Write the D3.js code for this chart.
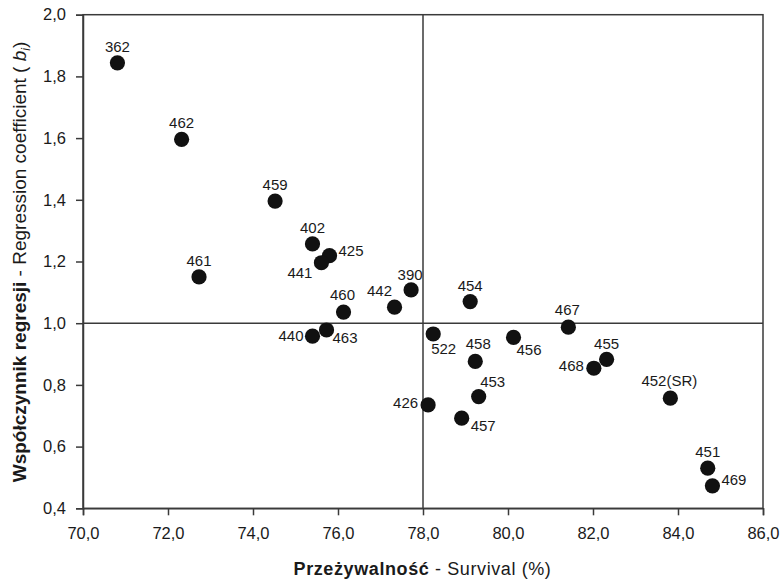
<!DOCTYPE html>
<html><head><meta charset="utf-8">
<script src="https://cdn.jsdelivr.net/npm/d3@7"></script>
<style>body{margin:0;background:#fff}svg{display:block}text{font-family:"Liberation Sans",Arial,sans-serif;fill:#1a1a1a}</style>
</head><body>
<svg id="c" width="781" height="585"></svg>
<script>
const labels = ["362","462","459","461","402","425","441","390","442","460","454","440","463","522","458","453","426","457","456","467","455","468","452(SR)","451","469"];
const survival = [70.81,72.32,74.52,72.73,75.40,75.80,75.61,77.72,77.33,76.13,79.11,75.40,75.73,78.24,79.23,79.31,78.12,78.91,80.13,81.42,82.32,82.02,83.82,84.70,84.81];
const regression = [1.844,1.596,1.396,1.150,1.257,1.219,1.196,1.108,1.052,1.036,1.070,0.958,0.978,0.965,0.876,0.762,0.735,0.692,0.954,0.987,0.883,0.854,0.757,0.530,0.473];
const xTicks = [70,72,74,76,78,80,82,84,86];
const yTicks = [0.4,0.6,0.8,1.0,1.2,1.4,1.6,1.8,2.0];
// label placement: [dx, dy, anchor]
const labelPos = {
 "362":[0,-11,"middle"],"462":[0,-11,"middle"],"459":[0,-11,"middle"],"461":[0,-11,"middle"],
 "402":[0,-11,"middle"],"425":[9,0,"start"],"441":[-9,15,"end"],"390":[-1,-10,"middle"],
 "442":[-15,-11,"middle"],"460":[-1,-12,"middle"],"454":[0,-11,"middle"],"440":[-9,5,"end"],
 "463":[6,13,"start"],"522":[-2,20,"start"],"458":[3,-12,"middle"],"453":[14,-10,"middle"],
 "426":[-10,3,"end"],"457":[9,13,"start"],"456":[3,18,"start"],"467":[-1,-12,"middle"],
 "455":[0,-10,"middle"],"468":[-10,3,"end"],"452(SR)":[-1,-12,"middle"],"451":[0,-11,"middle"],"469":[9,-1,"start"]
};
const svg = d3.select("#c");
const L=83,R=763,T=14.7,B=508.3;
const x = d3.scaleLinear().domain([70,86]).range([L,R]);
const y = d3.scaleLinear().domain([0.4,2.0]).range([B,T]);
const fmt = d => d.toFixed(1).replace(".",",");
const lc = "#3a3a3a";
// frame
svg.append("rect").attr("x",L).attr("y",T).attr("width",R-L).attr("height",B-T).attr("fill","none").attr("stroke",lc).attr("stroke-width",1.5);
// reference lines
svg.append("line").attr("x1",x(78)).attr("x2",x(78)).attr("y1",T).attr("y2",B).attr("stroke",lc).attr("stroke-width",1.5);
svg.append("line").attr("x1",L).attr("x2",R).attr("y1",y(1.0)).attr("y2",y(1.0)).attr("stroke",lc).attr("stroke-width",1.5);
// axes
const gx = svg.append("g").attr("transform",`translate(0,${B})`).call(d3.axisBottom(x).tickValues(xTicks).tickFormat(fmt).tickSize(7).tickPadding(12));
const gy = svg.append("g").attr("transform",`translate(${L},0)`).call(d3.axisLeft(y).tickValues(yTicks).tickFormat(fmt).tickSize(7).tickPadding(10));
[gx,gy].forEach(g=>{g.select(".domain").attr("stroke",lc).attr("stroke-width",1.5);g.selectAll(".tick line").attr("stroke",lc).attr("stroke-width",1.5);g.selectAll(".tick text").attr("font-size",16.5).attr("fill","#222").style("font-family","'Liberation Sans',Arial,sans-serif");});
// points
const data = labels.map((l,i)=>({l,xv:survival[i],yv:regression[i]}));
svg.append("g").selectAll("circle").data(data).join("circle").attr("cx",d=>x(d.xv)).attr("cy",d=>y(d.yv)).attr("r",7.6).attr("fill","#111");
svg.append("g").selectAll("text").data(data).join("text")
 .attr("x",d=>x(d.xv)+labelPos[d.l][0]).attr("y",d=>y(d.yv)+labelPos[d.l][1])
 .attr("text-anchor",d=>labelPos[d.l][2]).attr("font-size",15).text(d=>d.l);
// x title
const xt = svg.append("text").attr("x",422.5).attr("y",575).attr("text-anchor","middle").attr("font-size",18).attr("letter-spacing",0.6);
xt.append("tspan").attr("font-weight","bold").text("Przeżywalność");
xt.append("tspan").text(" - Survival (%)");
// y title
const yt = svg.append("text").attr("transform",`translate(26,262) rotate(-90)`).attr("text-anchor","middle").attr("font-size",19);
yt.append("tspan").attr("font-weight","bold").text("Współczynnik regresji");
yt.append("tspan").text(" - Regression coefficient ( ");
yt.append("tspan").attr("font-style","italic").text("b");
yt.append("tspan").attr("font-style","italic").attr("font-size",12).attr("dy",4).text("i");
yt.append("tspan").attr("dy",-4).text(")");
</script>
</body></html>
